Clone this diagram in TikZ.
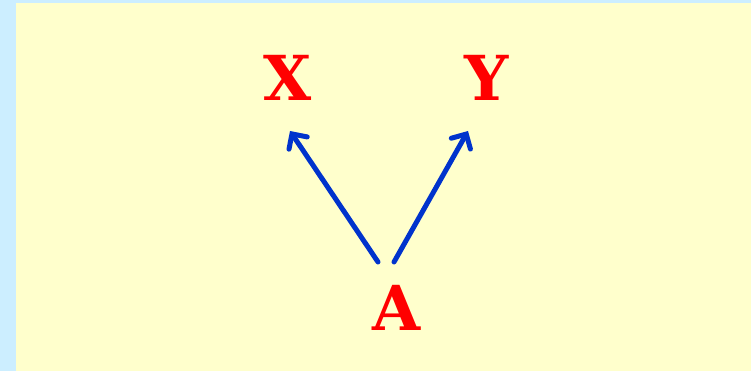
\documentclass[tikz,border=0pt]{standalone}
\usepackage{fontspec}
\newfontfamily\slabfont{DejaVu Serif}
\usetikzlibrary{arrows.meta}
\definecolor{bgblue}{HTML}{CCEEFF}
\definecolor{bgyellow}{HTML}{FFFFCC}
\definecolor{arrowblue}{HTML}{0033CC}
\tikzset{
  letter/.style={text=red, font=\slabfont\bfseries\fontsize{62}{62}\selectfont, inner sep=0pt, anchor=center},
  conn/.style={draw=arrowblue, line width=5pt, line cap=round, -{Straight Barb[length=11pt,width=22pt,line cap=round]}}
}
\begin{document}
\begin{tikzpicture}[x=1pt,y=1pt]
  \fill[bgblue] (0,0) rectangle (751,371);
  \fill[bgyellow] (16,0) rectangle (751,368);
  \useasboundingbox (0,0) rectangle (751,371);
  \node[letter] (X) at (288,293.5) {X};
  \node[letter] (Y) at (487,293.5) {Y};
  \node[letter] (A) at (397,63.5) {A};
  \coordinate (a1) at (378,109);
  \coordinate (a2) at (394,109);
  \coordinate (x1) at (290,240);
  \coordinate (y1) at (468,240);
  \draw[conn] (a1) -- (x1);
  \draw[conn] (a2) -- (y1);
\end{tikzpicture}
\end{document}
